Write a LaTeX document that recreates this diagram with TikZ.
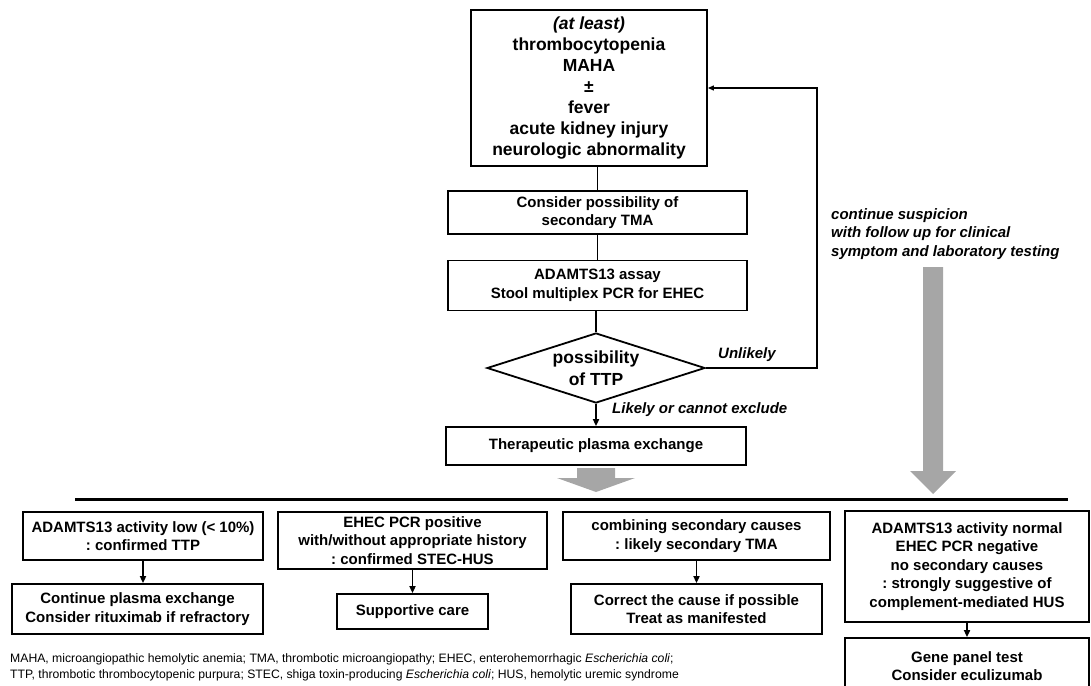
\documentclass[tikz,border=0pt]{standalone}
\usepackage{fontspec}
\setmainfont{Liberation Sans}
\usetikzlibrary{shapes.geometric,arrows.meta}
\frenchspacing

\begin{document}
\begin{tikzpicture}[x=1pt, y=-1pt, line join=miter,
  box/.style={draw, line width=1.8pt, align=center, inner sep=0pt, font=\bfseries\fontsize{15}{18.5}\selectfont},
  bigbox/.style={box, font=\bfseries\fontsize{17.5}{21}\selectfont},
  decide/.style={diamond, draw, line width=1.8pt, aspect=3.1, inner sep=0pt, align=center, font=\bfseries\fontsize{17.5}{22}\selectfont},
  lbl/.style={inner sep=0pt, align=left, font=\bfseries\itshape\fontsize{15}{18.5}\selectfont},
  link/.style={line width=1.8pt},
  go/.style={link, -{Triangle[length=7pt,width=6pt]}},
  blk/.style={fill=black!35}]

  %% ════ upper flow ════
  \node[bigbox, minimum width=236pt, minimum height=156pt] (sympt) at (589,88)
    {\textit{(at least)}\\thrombocytopenia\\MAHA\\±\\fever\\acute kidney injury\\neurologic abnormality};   % box(471,10,236,156)
  \node[box, minimum width=299pt, minimum height=43pt] (second) at (597.5,212.5) {Consider possibility of\\secondary TMA};
  \node[box, minimum width=299pt, minimum height=50pt] (assay) at (597.5,285.5) {ADAMTS13 assay\\Stool multiplex PCR for EHEC};
  \node[decide, minimum width=218pt, minimum height=70pt] (ttp) at (596,368) {possibility\\of TTP};
  \node[box, minimum width=300pt, minimum height=38pt] (tpe) at (596,446) {Therapeutic plasma exchange};

  \draw[link] (sympt.south -| second.north) -- (second.north);
  \draw[link] (second) -- (assay);
  \draw[link] (assay.south -| ttp.north) -- (ttp.north);
  \draw[go] (ttp) -- (tpe);

  %% ════ loop back ════
  \coordinate (loop) at (817,88);
  \draw[line width=1.2pt, -{Triangle[length=6pt,width=5pt]}] (ttp.east) -| (loop) -- (sympt.east);

  %% ════ labels ════
  \node[lbl, anchor=west] (unl) at (718,355) {Unlikely};
  \node[lbl, anchor=west] (lik) at (612,410) {Likely or cannot exclude};
  \node[lbl, anchor=west] (cont) at (831,234) {continue suspicion\\with follow up for clinical\\symptom and laboratory testing};

  %% ════ block arrows + divider ════
  \fill[blk] (577,468) -- (615,468) -- (615,478) -- (635,478) -- (596,492) -- (557,478) -- (577,478) -- cycle;
  \fill[blk] (923,267) -- (943,267) -- (943,471) -- (956,471) -- (933,494) -- (910,471) -- (923,471) -- cycle;
  \draw[line width=3pt] (75,499) -- (1068,499);

  %% ════ outcomes ════
  \node[box, minimum width=240pt, minimum height=48pt] (low) at (143,536) {ADAMTS13 activity low (< 10\%)\\: confirmed TTP};
  \node[box, minimum width=251pt, minimum height=50pt] (pex) at (137.5,609) {Continue plasma exchange\\Consider rituximab if refractory};
  \node[box, minimum width=269pt, minimum height=57pt] (ehec) at (412.5,540.5) {EHEC PCR positive\\with/without appropriate history\\: confirmed STEC-HUS};
  \node[box, minimum width=151pt, minimum height=35pt] (supp) at (412.5,611.5) {Supportive care};
  \node[box, minimum width=267pt, minimum height=48pt] (sec) at (696.5,536) {combining secondary causes\\: likely secondary TMA};
  \node[box, minimum width=251pt, minimum height=50pt] (fix) at (696.5,609) {Correct the cause if possible\\Treat as manifested};
  \node[box, minimum width=244pt, minimum height=111pt] (norm) at (967,566.5)
    {ADAMTS13 activity normal\\EHEC PCR negative\\no secondary causes\\: strongly suggestive of\\complement-mediated HUS};
  \node[box, minimum width=244pt, minimum height=56pt] (gene) at (967,666) {Gene panel test\\Consider eculizumab};

  \draw[go] (low.south) -- (low.south |- pex.north);
  \draw[go] (ehec) -- (supp);
  \draw[go] (sec) -- (fix);
  \draw[go] (norm) -- (gene);

  %% ════ footnote ════
  \node[anchor=west, align=left, inner sep=0pt, font=\fontsize{12.2}{16}\selectfont] (abbr) at (10,667)
    {MAHA, microangiopathic hemolytic anemia; TMA, thrombotic microangiopathy; EHEC, enterohemorrhagic \textit{Escherichia coli};\\
     TTP, thrombotic thrombocytopenic purpura; STEC, shiga toxin-producing \textit{Escherichia coli}; HUS, hemolytic uremic syndrome};

  \pgfresetboundingbox
  \path[use as bounding box] (0,0) rectangle (1091,685);
\end{tikzpicture}
\end{document}
